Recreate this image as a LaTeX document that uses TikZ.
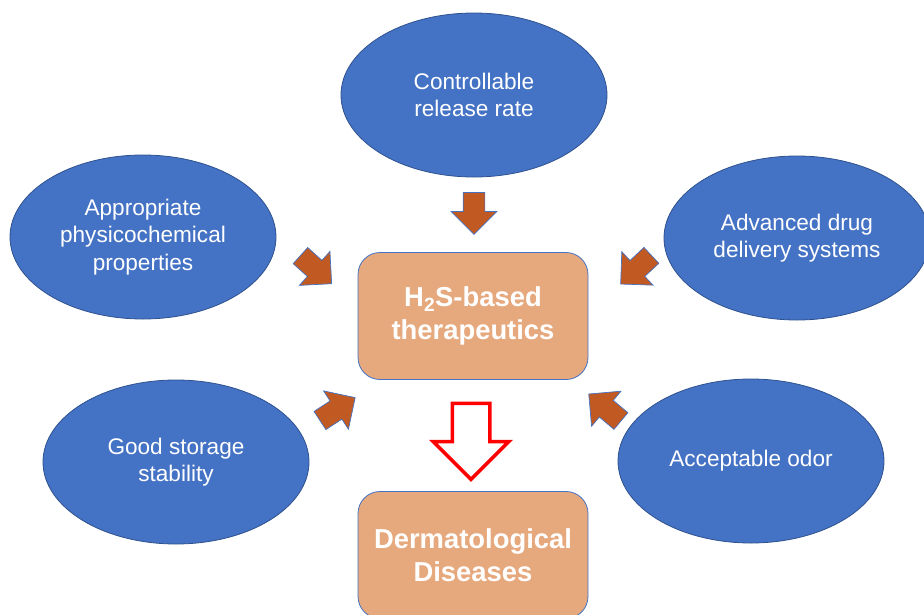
\documentclass[tikz,border=0pt]{standalone}
\usepackage{fontspec}
\setmainfont{Liberation Sans}
\usetikzlibrary{shapes.geometric, shapes.arrows}
\definecolor{ovalblue}{RGB}{68,114,196}
\definecolor{ovalline}{RGB}{47,82,143}
\definecolor{boxorange}{RGB}{230,168,125}
\definecolor{arrowbrown}{RGB}{192,90,34}

\begin{document}
\begin{tikzpicture}[x=1pt,y=-1pt,
    oval/.style={ellipse, draw=ovalline, line width=0.8pt, fill=ovalblue, text=white, align=center,
        minimum width=266pt, minimum height=164pt, font=\fontsize{22.6}{27.5}\selectfont},
    bigbox/.style={rectangle, rounded corners=22pt, draw=ovalblue, line width=0.8pt, fill=boxorange, text=white,
        align=center, minimum width=230pt, minimum height=127pt, font=\fontsize{27.4}{33}\selectfont\bfseries},
    feedarrow/.style={single arrow, draw=ovalblue, line width=0.7pt, fill=arrowbrown, inner sep=10.5pt,
        single arrow head extend=12pt, minimum height=42pt},
    outarrow/.style={single arrow, draw=red, line width=3.5pt, fill=white, inner sep=17pt,
        single arrow head extend=19pt, minimum height=76pt}]
    \useasboundingbox (0,0) rectangle (924,614);
    \clip (0,0) rectangle (924,614);

    % properties round the centre
    \node[oval] (ctrl) at (474,95) {Controllable\\release rate};
    \node[oval] (physchem) at (143,237) {Appropriate\\physicochemical\\properties};
    \node[oval] (delivery) at (797,238) {Advanced drug\\delivery systems};
    \node[oval] (storage) at (176,462) {Good storage\\stability};
    \node[oval] (odor) at (751,461) {Acceptable odor};

    % centre and outcome
    \node[bigbox] (htwos) at (473,316) {H\textsubscript{2}S-based\\therapeutics};
    \node[bigbox] (derm) at (473,555) {Dermatological\\Diseases};

    % arrows into the centre
    \foreach \nm/\pos/\ang in {ctrl/{(474,208)}/-90, physchem/{(312,266)}/-42, delivery/{(640,266)}/-137,
        storage/{(333,412)}/33, odor/{(609,411)}/140}
        \node[feedarrow, rotate=\ang] (arr-\nm) at \pos {};

    \node[outarrow, rotate=-90] (arr-derm) at (471,432) {};
\end{tikzpicture}
\end{document}
